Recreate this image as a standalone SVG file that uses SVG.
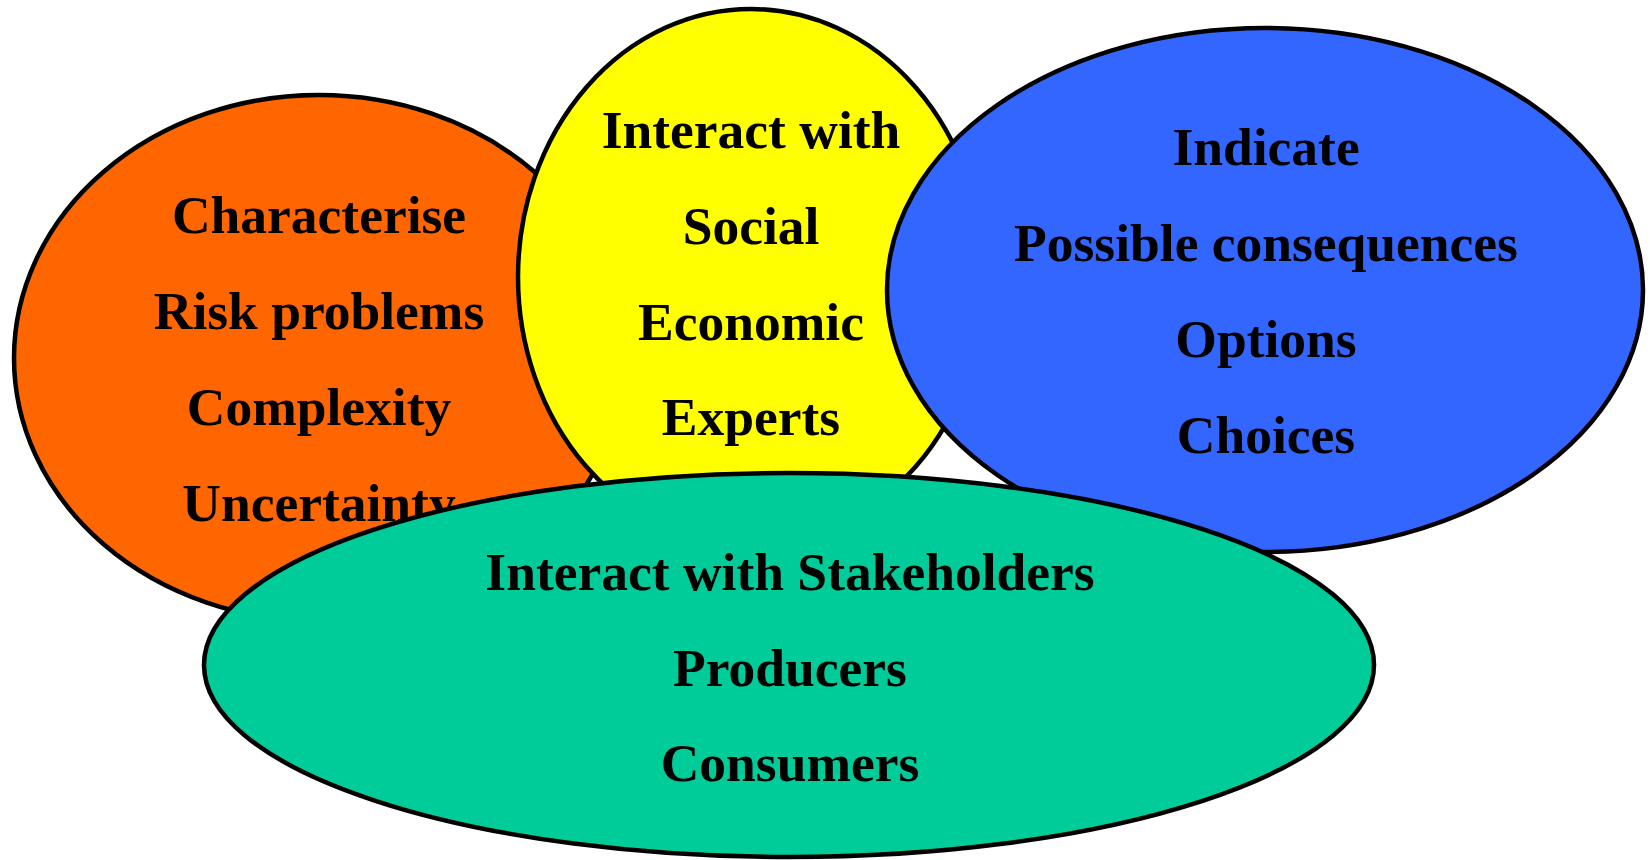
<svg xmlns="http://www.w3.org/2000/svg" width="1650" height="860" viewBox="0 0 1650 860">
<style>
.shape{stroke:#000;stroke-width:4.5}
.t{font-family:"Liberation Serif","Times New Roman",serif;font-weight:bold;font-size:53.5px;text-anchor:middle;fill:#000}
</style>
<rect width="1650" height="860" fill="#fff"/>
<g id="connectors"/>
<g id="node-characterise">
<ellipse class="shape" cx="319" cy="358" rx="305" ry="263" fill="#FF6600"/>
<text class="t" x="319" y="233">Characterise</text>
<text class="t" x="319" y="329">Risk problems</text>
<text class="t" x="319" y="425">Complexity</text>
<text class="t" x="319" y="521">Uncertainty</text>
</g>
<g id="node-interact">
<ellipse class="shape" cx="751" cy="277" rx="233" ry="268" fill="#FFFF00"/>
<text class="t" x="751" y="148">Interact with</text>
<text class="t" x="751" y="244">Social</text>
<text class="t" x="751" y="340">Economic</text>
<text class="t" x="751" y="435">Experts</text>
</g>
<g id="node-indicate">
<ellipse class="shape" cx="1265" cy="290" rx="378" ry="262" fill="#3366FF"/>
<text class="t" x="1266" y="165">Indicate</text>
<text class="t" x="1266" y="261">Possible consequences</text>
<text class="t" x="1266" y="357">Options</text>
<text class="t" x="1266" y="453">Choices</text>
</g>
<g id="node-stakeholders">
<ellipse class="shape" cx="789" cy="665" rx="585" ry="192" fill="#00CC99"/>
<text class="t" x="790" y="590">Interact with Stakeholders</text>
<text class="t" x="790" y="686">Producers</text>
<text class="t" x="790" y="781">Consumers</text>
</g>
</svg>
